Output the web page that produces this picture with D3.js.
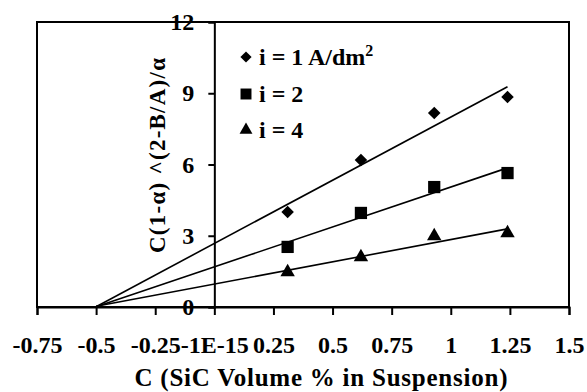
<!DOCTYPE html>
<html><head><meta charset="utf-8">
<script src="https://cdn.jsdelivr.net/npm/d3@7"></script>
<style>
html,body{margin:0;padding:0;background:#fff;}
</style></head>
<body><svg id="c" width="587" height="392" font-family="'Liberation Serif', serif" font-weight="bold"></svg>
<script>
const xValues = [0.31, 0.62, 0.93, 1.24];
const seriesNames = ["i = 1 A/dm", "i = 2", "i = 4"];
const seriesY1 = [4.0, 6.19, 8.17, 8.84];
const seriesY2 = [2.53, 3.96, 5.05, 5.64];
const seriesY4 = [1.47, 2.10, 2.99, 3.11];
const xTickValues = [-0.75, -0.5, -0.25, 0, 0.25, 0.5, 0.75, 1, 1.25, 1.5];
const xTickLabels = ["-0.75", "-0.5", "-0.25", "-1E-15", "0.25", "0.5", "0.75", "1", "1.25", "1.5"];
const yTickValues = [0, 3, 6, 9, 12];
const trendStartX = -0.5;

const FONT = "'Liberation Serif', serif";
const svg = d3.select("#c");
const L = 37, R = 569, T = 22, B = 307;
const x = d3.scaleLinear().domain([-0.75, 1.5]).range([L, R]);
const y = d3.scaleLinear().domain([0, 12]).range([B, T]);

function styleText(sel, size) {
  sel.attr("font-family", FONT).attr("font-weight", "bold").attr("font-size", size)
    .style("font-family", FONT).style("font-weight", "bold").style("font-size", size + "px").attr("fill", "#000");
}

svg.append("rect").attr("width", 587).attr("height", 392).attr("fill", "#fff");

// frame
svg.append("rect").attr("x", L).attr("y", T).attr("width", R - L).attr("height", B - T)
  .attr("fill", "none").attr("stroke", "#000").attr("stroke-width", 2);

// x axis
const xa = svg.append("g").attr("transform", `translate(0,${B})`)
  .call(d3.axisBottom(x).tickValues(xTickValues).tickFormat((d, i) => xTickLabels[i]).tickSize(8).tickPadding(21));
xa.attr("font-family", FONT);
xa.select(".domain").attr("stroke-width", 2);
xa.selectAll(".tick line").attr("stroke-width", 2);
styleText(xa.selectAll("text"), 24);

// y axis at x=0
const ya = svg.append("g").attr("transform", `translate(${x(0)},0)`)
  .call(d3.axisLeft(y).tickValues(yTickValues).tickSize(6).tickPadding(14));
ya.attr("font-family", FONT);
ya.select(".domain").attr("stroke-width", 2);
ya.selectAll(".tick line").attr("stroke-width", 2);
styleText(ya.selectAll("text"), 24);

// titles
styleText(svg.append("text").attr("x", 321).attr("y", 386).attr("text-anchor", "middle")
  .attr("textLength", 373).attr("lengthAdjust", "spacing")
  .text("C (SiC Volume % in Suspension)"), 25);
styleText(svg.append("text").attr("transform", "translate(165,155.5) rotate(-90)").attr("text-anchor", "middle")
  .attr("textLength", 195).attr("lengthAdjust", "spacing")
  .text("C(1-α) ^(2-B/A)/α"), 23);

const series = [
  { ys: seriesY1, shape: d3.symbolDiamond2, size: 100 },
  { ys: seriesY2, shape: d3.symbolSquare, size: 150 },
  { ys: seriesY4, shape: d3.symbolTriangle, size: 90 }
];

function fit(xs, ys) {
  const mx = d3.mean(xs), my = d3.mean(ys);
  let sxy = 0, sxx = 0;
  xs.forEach((v, i) => { sxy += (v - mx) * (ys[i] - my); sxx += (v - mx) * (v - mx); });
  const m = sxy / sxx;
  return { m, b: my - m * mx };
}

series.forEach(s => {
  const f = fit(xValues, s.ys);
  const x0 = trendStartX, x1 = d3.max(xValues);
  svg.append("line").attr("x1", x(x0)).attr("y1", y(Math.max(0, f.m * x0 + f.b)))
    .attr("x2", x(x1)).attr("y2", y(f.m * x1 + f.b))
    .attr("stroke", "#000").attr("stroke-width", 1.6);
  svg.selectAll(null).data(xValues).enter().append("path")
    .attr("d", d3.symbol().type(s.shape).size(s.size))
    .attr("transform", (d, i) => `translate(${x(d)},${y(s.ys[i])})`)
    .attr("fill", "#000");
});

// legend
const legY = [57, 94, 130];
series.forEach((s, i) => {
  svg.append("path").attr("d", d3.symbol().type(s.shape).size(s.size * 0.8))
    .attr("transform", `translate(246,${legY[i]})`).attr("fill", "#000");
  const t = svg.append("text").attr("x", 259).attr("y", legY[i] + 8).text(seriesNames[i]);
  styleText(t, 24);
  if (i === 0) t.append("tspan").attr("dy", -9).attr("font-size", 16).style("font-size", "16px").text("2");
});
</script></body></html>
